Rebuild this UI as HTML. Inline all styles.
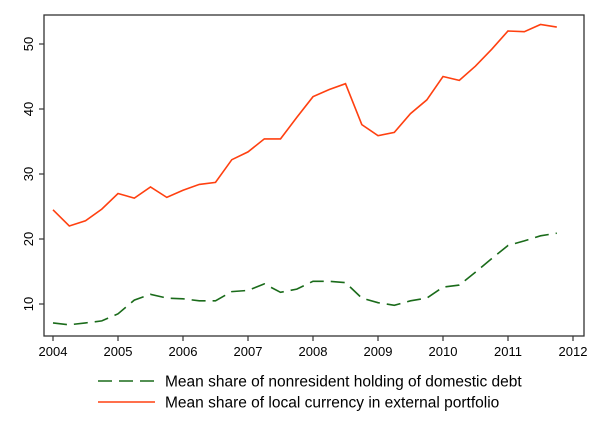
<!DOCTYPE html>
<html><head><meta charset="utf-8"><style>
body{margin:0;background:#fff;}
svg text{font-family:"Liberation Sans",Arial,sans-serif;fill:#000;}
</style></head><body>
<svg id="s" width="600" height="437" xmlns="http://www.w3.org/2000/svg">
<rect x="44" y="15" width="540" height="321" fill="none" stroke="#333" stroke-width="1.3"/>
<g id="ticks" stroke="#333" stroke-width="1.2"></g>
<g id="labels" font-size="13"></g>
<polyline id="g" fill="none" stroke="#1a6b1a" stroke-width="1.6" stroke-dasharray="14,7"/>
<polyline id="r" fill="none" stroke="#ff4010" stroke-width="1.6"/>
<line x1="98" y1="381" x2="155" y2="381" stroke="#1a6b1a" stroke-width="1.6" stroke-dasharray="14,7"/>
<text x="165" y="386.5" font-size="15.5">Mean share of nonresident holding of domestic debt</text>
<line x1="98" y1="402" x2="155" y2="402" stroke="#ff4010" stroke-width="1.6"/>
<text x="165" y="407.5" font-size="15.5">Mean share of local currency in external portfolio</text>
</svg>
<script>
var R=[24.5,22,22.8,24.6,27,26.3,28,26.4,27.5,28.4,28.7,32.2,33.4,35.4,35.4,38.7,41.9,43,43.9,37.6,35.9,36.4,39.3,41.4,45,44.4,46.6,49.2,52,51.9,53,52.6];
var G=[7.1,6.8,7.1,7.4,8.5,10.6,11.5,10.9,10.8,10.5,10.5,11.9,12.1,13.1,11.8,12.3,13.5,13.5,13.3,10.9,10.2,9.8,10.5,10.9,12.6,12.9,14.9,17,19,19.7,20.5,20.9];
function X(i){return 53+16.25*i}function Y(v){return 304-(v-10)*6.5}
function pts(a){return a.map(function(v,i){return X(i).toFixed(1)+","+Y(v).toFixed(1)}).join(" ")}
document.getElementById("r").setAttribute("points",pts(R));
document.getElementById("g").setAttribute("points",pts(G));
var t="",l="";
for(var y=2004;y<=2012;y++){var x=53+65*(y-2004);t+='<line x1="'+x+'" y1="336" x2="'+x+'" y2="341"/>';l+='<text x="'+x+'" y="356" text-anchor="middle">'+y+'</text>';}
for(var v=10;v<=50;v+=10){var yy=Y(v);t+='<line x1="39" y1="'+yy+'" x2="44" y2="'+yy+'"/>';l+='<text transform="translate(33,'+yy+') rotate(-90)" text-anchor="middle">'+v+'</text>';}
document.getElementById("ticks").innerHTML=t;document.getElementById("labels").innerHTML=l;
</script>
</body></html>
